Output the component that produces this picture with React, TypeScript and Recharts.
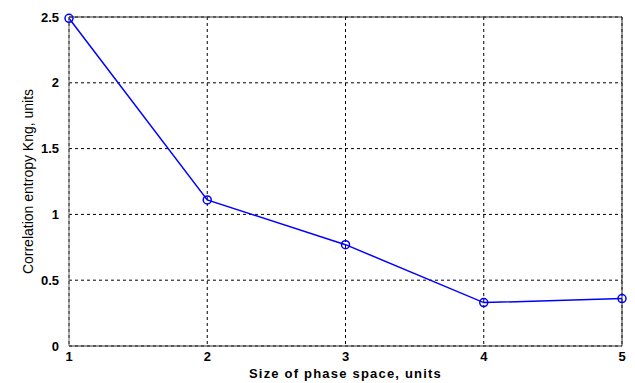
import React from "react";
import {
  LineChart,
  Line,
  XAxis,
  YAxis,
  CartesianGrid,
  ReferenceLine,
} from "recharts";

const phaseSizes = [1, 2, 3, 4, 5];
const entropyValues = [2.49, 1.11, 0.77, 0.33, 0.36];
const xTicks = [1, 2, 3, 4, 5];
const yTicks = [0, 0.5, 1, 1.5, 2, 2.5];
const yTickLabels = ["0", "0.5", "1", "1.5", "2", "2.5"];

const chartData = phaseSizes.map((size, i) => ({
  size,
  entropy: entropyValues[i],
}));

const font = "'Liberation Sans', Arial, sans-serif";

const App = () => {
  return (
    <div
      style={{
        position: "absolute",
        left: 0,
        top: 0,
        width: 635,
        height: 383,
        background: "#ffffff",
      }}
    >
      <LineChart
        width={635}
        height={383}
        data={chartData}
        margin={{ top: 17, right: 13, bottom: 0, left: 0 }}
      >
        <CartesianGrid
          stroke="#000"
          strokeDasharray="3 3"
          strokeWidth={1}
          horizontal={true}
          vertical={true}
        />
        <XAxis
          dataKey="size"
          type="number"
          domain={[1, 5]}
          ticks={xTicks}
          tickLine={false}
          stroke="#333"
          height={37}
          tick={{ fill: "#000", fontSize: 13, fontFamily: font, fontWeight: "bold" }}
          tickMargin={0}
          label={{
            value: "Size of phase space, units",
            position: "insideBottom",
            offset: 5,
            fill: "#000",
            fontSize: 13,
            fontWeight: "bold",
            letterSpacing: 1.2,
            fontFamily: font,
          }}
        />
        <YAxis
          type="number"
          domain={[0, 2.5]}
          ticks={yTicks}
          tickFormatter={(v: number) => yTickLabels[yTicks.indexOf(v)] ?? String(v)}
          tickLine={false}
          stroke="#666"
          width={69}
          tick={{ fill: "#000", fontSize: 13, fontFamily: font, fontWeight: "bold" }}
          tickMargin={4}
          label={{
            value: "Correlation entropy Kng, units",
            angle: -90,
            position: "insideLeft",
            offset: 28,
            style: { textAnchor: "middle" },
            fill: "#000",
            fontSize: 14,
            fontFamily: font,
          }}
        />
        <ReferenceLine y={2.5} stroke="#333" strokeWidth={1} />
        <ReferenceLine x={5} stroke="#333" strokeWidth={1} />
        <Line
          type="linear"
          dataKey="entropy"
          stroke="#0000ff"
          strokeWidth={1.5}
          dot={{ r: 4, stroke: "#0000ff", strokeWidth: 1.5, fill: "none" }}
          isAnimationActive={false}
        />
      </LineChart>
    </div>
  );
};

export default App;
